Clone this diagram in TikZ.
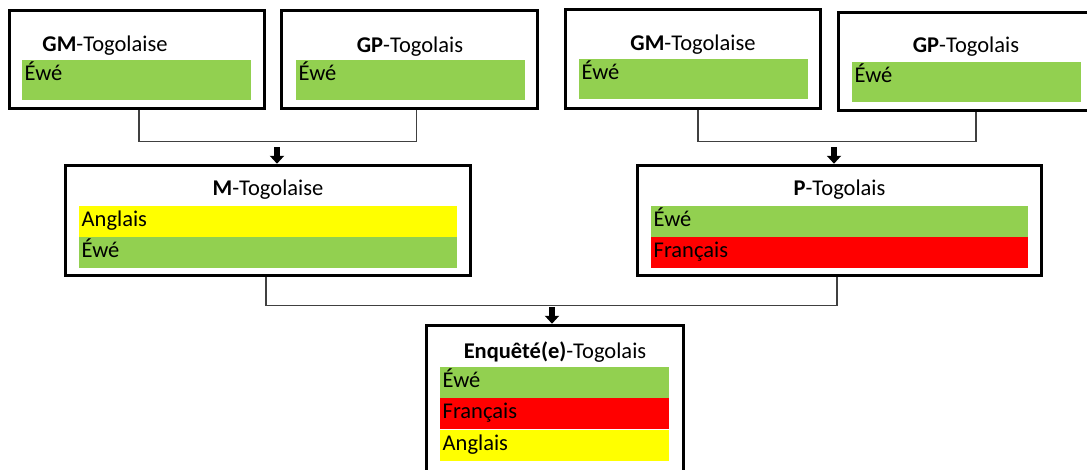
\documentclass[tikz,border=0pt]{standalone}
\usepackage{fontspec}
\setmainfont{Carlito}
\usetikzlibrary{arrows.meta, positioning}
\definecolor{ewe}{RGB}{146,208,80}
\definecolor{fra}{RGB}{255,0,0}
\definecolor{ang}{RGB}{255,255,0}
\definecolor{lnk}{RGB}{64,64,64}

\begin{document}
\begin{tikzpicture}[
  x=1pt, y=-1pt,
  every node/.style = {font=\fontsize{22.5pt}{27pt}\selectfont},
  frame/.style = {rectangle, draw=black, line width=3.5pt, fill=white, inner sep=0pt},
  ttl/.style   = {anchor=base, inner sep=0pt},
  bar/.style   = {rectangle, fill=#1, anchor=north west, inner xsep=2.5pt, inner ysep=0pt,
                  align=left, text height=20.5pt},
  wide/.style  = {text width=224pt, text depth=19.5pt},
  band/.style  = {text height=20pt, text depth=11pt},
  link/.style  = {draw=lnk, line width=1.4pt},
  arr/.style   = {-{Triangle[width=14pt,length=8pt]}, line width=5.5pt}
]
\useasboundingbox (0,0) rectangle (1087,469);
\clip (0,0) rectangle (1087,469);

\node[frame, minimum width=255pt, minimum height=98pt]  (gmL) at (137,59.5)   {};
\node[frame, minimum width=256pt, minimum height=98pt]  (gpL) at (409.5,59.5) {};
\node[frame, minimum width=255pt, minimum height=99pt]  (gmR) at (693,59)     {};
\node[frame, minimum width=255pt, minimum height=98pt]  (gpR) at (966,61.5)   {};
\node[frame, minimum width=405pt, minimum height=110pt] (mT)  at (268,220.5)  {};
\node[frame, minimum width=404pt, minimum height=110pt] (pT)  at (839.5,220.5){};
\node[frame, minimum width=257pt, minimum height=155pt] (enq) at (555,403)    {};

\node[ttl] (gmLt) at (105,51)    {\textbf{GM}-Togolaise};
\node[ttl] (gpLt) at (410,52)    {\textbf{GP}-Togolais};
\node[ttl] (gmRt) at (693,50)    {\textbf{GM}-Togolaise};
\node[ttl] (gpRt) at (966,52)    {\textbf{GP}-Togolais};
\node[ttl] (mTt)  at (268,195)   {\textbf{M}-Togolaise};
\node[ttl] (pTt)  at (839.5,195) {\textbf{P}-Togolais};
\node[ttl] (enqt) at (555,358)   {\textbf{Enquêté(e)}-Togolais};

\node[bar=ewe, wide] (gmLe) at (22,60)  {Éwé};
\node[bar=ewe, wide] (gpLe) at (296,60) {Éwé};
\node[bar=ewe, wide] (gmRe) at (579,59) {Éwé};
\node[bar=ewe, wide] (gpRe) at (852,62) {Éwé};
\node[bar=ang, band, text width=373pt] (mTa) at (79,206)  {Anglais};
\node[bar=ewe, band, text width=373pt] (mTe) at (79,237)  {Éwé};
\node[bar=ewe, band, text width=372pt] (pTe) at (651,206) {Éwé};
\node[bar=fra, band, text width=372pt] (pTf) at (651,237) {Français};
\node[bar=ewe, band, text width=224pt] (enqe) at (440,367) {Éwé};
\node[bar=fra, band, text width=224pt] (enqf) at (440,398) {Français};
\node[bar=ang, band, text width=224pt] (enqa) at (440,430) {Anglais};

\coordinate (aL) at (277,147);
\coordinate (aR) at (834,147);
\coordinate (aB) at (552,307);

\draw[link] ([xshift=2pt]gmL.south) -- ++(0,31) -| ([xshift=7pt]gpL.south);
\draw[link] ([xshift=5pt]gmR.south) -- ++(0,31) -| ([xshift=10pt]gpR.south);
\draw[link] ([xshift=-2pt]mT.south) -- ++(0,28.5) -| ([xshift=-2.5pt]pT.south);
\draw[arr] (aL) -- (aL |- mT.north);
\draw[arr] (aR) -- (aR |- pT.north);
\draw[arr] (aB) -- (aB |- enq.north);
\end{tikzpicture}
\end{document}
